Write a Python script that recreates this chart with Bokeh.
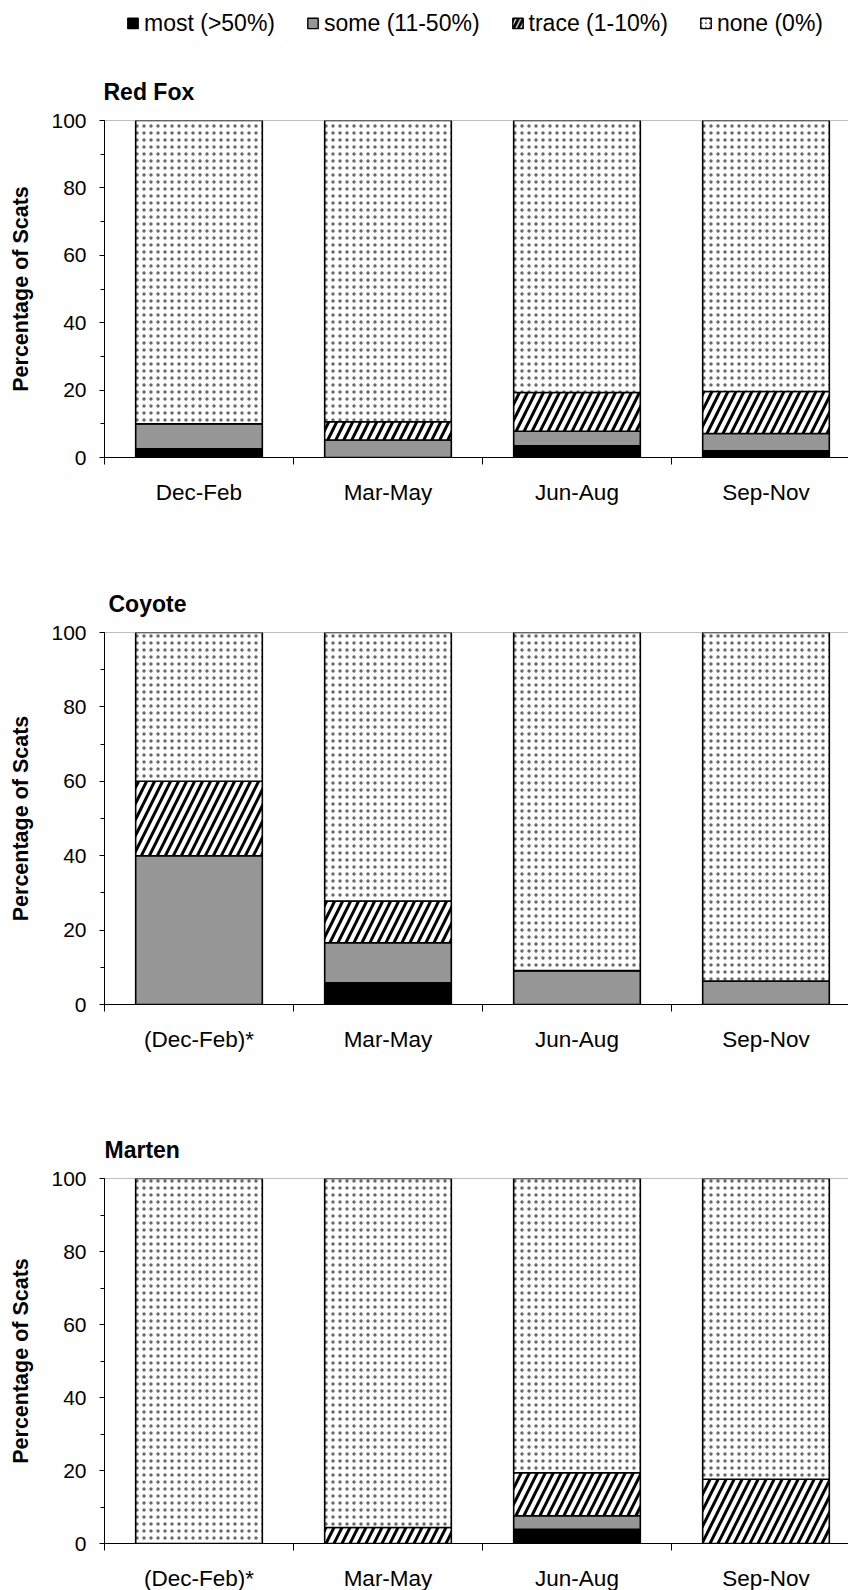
from bokeh.plotting import figure
from bokeh.layouts import column
from bokeh.models import Range1d, FixedTicker, Span, Legend, LegendItem, ColumnDataSource
from bokeh.transform import stack
from bokeh.embed import file_html
from bokeh.resources import INLINE

# Season categories (coyote and marten winter samples are flagged with an asterisk)
seasons_fox = ["Dec-Feb", "Mar-May", "Jun-Aug", "Sep-Nov"]
seasons_flagged = ["(Dec-Feb)*", "Mar-May", "Jun-Aug", "Sep-Nov"]
levels = ["most (>50%)", "some (11-50%)", "trace (1-10%)", "none (0%)"]
y_ticks = [0, 20, 40, 60, 80, 100]

# Percentage of scats in each occurrence class, per season
fox_most = [2.6, 0.0, 3.5, 2.0]
fox_some = [7.4, 5.2, 4.3, 5.1]
fox_trace = [0.0, 5.4, 11.5, 12.5]
fox_none = [90.0, 89.4, 80.7, 80.4]

coyote_most = [0.0, 5.8, 0.0, 0.0]
coyote_some = [40.0, 10.8, 9.1, 6.3]
coyote_trace = [20.0, 11.2, 0.0, 0.0]
coyote_none = [40.0, 72.2, 90.9, 93.7]

marten_most = [0.0, 0.0, 3.9, 0.0]
marten_some = [0.0, 0.0, 3.7, 0.0]
marten_trace = [0.0, 4.4, 11.8, 17.6]
marten_none = [100.0, 95.6, 80.6, 82.4]

FONT = "Liberation Sans"
PAGE_W = 848
CAT_PX = 189          # width of one season slot in pixels
BAR_W = 0.67          # bar width as a fraction of the slot

KEYS = ["most", "some", "trace", "none"]
FILLS = ["black", "#969696", "white", "white"]
HATCHES = [" ", " ", "/", "."]
HATCH_SCALE = [8, 8, 16, 7]
HATCH_WEIGHT = [1, 1, 3.0, 1.0]
HATCH_COLOR = ["black", "black", "black", "#6a6a6a"]


def panel(name, labels, most, some, trace, none, left, top, bottom, fheight, title_offset):
    fw = PAGE_W - left
    p = figure(frame_width=fw, frame_height=fheight,
               x_range=Range1d(0, fw / CAT_PX), y_range=Range1d(0, 100),
               output_backend="svg", toolbar_location=None,
               min_border_left=left, min_border_right=0,
               min_border_top=top, min_border_bottom=bottom)
    p.outline_line_color = None
    p.grid.visible = False

    src = ColumnDataSource(dict(x=[i + 0.5 for i in range(len(labels))],
                                most=most, some=some, trace=trace, none=none))
    for i, key in enumerate(KEYS):
        lower = stack(*KEYS[:i]) if i else 0
        p.vbar(x="x", width=BAR_W, bottom=lower, top=stack(*KEYS[:i + 1]),
               source=src, fill_color=FILLS[i], line_color="black", line_width=1.6,
               hatch_pattern=HATCHES[i], hatch_color=HATCH_COLOR[i],
               hatch_scale=HATCH_SCALE[i], hatch_weight=HATCH_WEIGHT[i])

    # plot-area border line along the top
    p.add_layout(Span(location=100, dimension="width", line_color="#808080",
                      line_width=1, level="underlay"))

    # y axis
    ya = p.yaxis[0]
    ya.ticker = FixedTicker(ticks=y_ticks, minor_ticks=list(range(0, 101, 10)))
    ya.axis_line_color = "black"
    ya.major_tick_line_color = "black"
    ya.minor_tick_line_color = "black"
    ya.major_tick_out = 5
    ya.major_tick_in = 0
    ya.minor_tick_out = 4
    ya.minor_tick_in = 0
    ya.major_label_text_font = FONT
    ya.major_label_text_font_size = "21px"
    ya.major_label_text_color = "black"
    ya.major_label_standoff = 13
    ya.axis_label = "Percentage of Scats"
    ya.axis_label_text_font = FONT
    ya.axis_label_text_font_size = "21.5px"
    ya.axis_label_text_font_style = "bold"
    ya.axis_label_text_color = "black"
    ya.axis_label_standoff = 15

    # x axis: labels centred in each slot, tick marks on slot boundaries
    xa = p.xaxis[0]
    centers = [i + 0.5 for i in range(len(labels))]
    xa.ticker = FixedTicker(ticks=centers, minor_ticks=list(range(len(labels) + 1)))
    xa.major_label_overrides = {c: lab for c, lab in zip(centers, labels)}
    xa.axis_line_color = "black"
    xa.major_tick_out = 0
    xa.major_tick_in = 0
    xa.minor_tick_out = 7
    xa.minor_tick_in = 0
    xa.minor_tick_line_color = "black"
    xa.major_label_text_font = FONT
    xa.major_label_text_font_size = "22.5px"
    xa.major_label_text_color = "black"
    xa.major_label_standoff = 15

    p.title.text = name
    p.title.text_font = FONT
    p.title.text_font_size = "23px"
    p.title.text_font_style = "bold"
    p.title.text_color = "black"
    p.title.align = "left"
    p.title.offset = title_offset
    p.title.standoff = 32
    return p


# legend strip across the top of the page
LEG_H = 45
lg = figure(width=PAGE_W, height=LEG_H, x_range=Range1d(0, 1), y_range=Range1d(0, 1),
            x_axis_type=None, y_axis_type=None, output_backend="svg",
            toolbar_location=None, min_border=0)
lg.grid.visible = False
lg.outline_line_color = None
# zero-size swatch renderers: nothing is drawn in the strip except their legend entries
swatch = ColumnDataSource(dict(x=[0.001], bottom=[0.999], top=[0.999]))
items = []
for i, lab in enumerate(levels):
    r = lg.vbar(x="x", bottom="bottom", top="top", width=0, source=swatch,
                fill_color=FILLS[i], line_color="black", line_width=1.4,
                hatch_pattern=HATCHES[i], hatch_color=HATCH_COLOR[i],
                hatch_scale=HATCH_SCALE[i] * 0.6, hatch_weight=HATCH_WEIGHT[i])
    items.append(LegendItem(label=lab, renderers=[r]))
legend = Legend(items=items, orientation="horizontal", location="right",
                glyph_width=13, glyph_height=13, label_standoff=5, spacing=31,
                padding=0, margin=25, border_line_color=None, background_fill_alpha=0,
                label_text_font=FONT, label_text_font_size="23px",
                label_text_color="black", label_height=22)
lg.add_layout(legend)

p1 = panel("Red Fox", seasons_fox, fox_most, fox_some, fox_trace, fox_none,
           left=102, top=120 - LEG_H, bottom=63, fheight=337, title_offset=-1)
p2 = panel("Coyote", seasons_flagged, coyote_most, coyote_some, coyote_trace, coyote_none,
           left=104, top=112, bottom=61, fheight=372, title_offset=4)
p3 = panel("Marten", seasons_flagged, marten_most, marten_some, marten_trace, marten_none,
           left=103, top=113, bottom=47, fheight=365, title_offset=0)

layout = column(lg, p1, p2, p3, spacing=0)
open("out.html", "w").write(file_html(layout, INLINE))
